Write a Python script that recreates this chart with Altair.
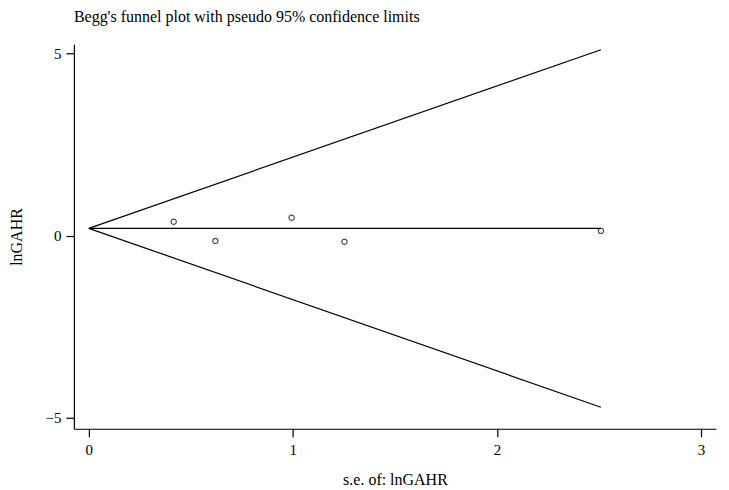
import altair as alt
import pandas as pd

# Study points
se = [0.416, 0.62, 0.994, 1.253, 2.51]
lnGAHR = [0.38, -0.15, 0.49, -0.17, 0.13]

# Funnel lines (endpoints)
line_se = [0.0, 2.51]
center = [0.20, 0.20]
upper = [0.20, 5.10]
lower = [0.20, -4.71]

pts = pd.DataFrame({"se": se, "y": lnGAHR})
lines = pd.DataFrame({
    "se": line_se * 3,
    "y": center + upper + lower,
    "line": ["center"] * 2 + ["upper"] * 2 + ["lower"] * 2,
})

FONT = "Liberation Serif"

xscale = alt.Scale(domain=[-0.073, 3.074], nice=False, zero=False)
yscale = alt.Scale(domain=[-5.30, 5.25], nice=False, zero=False)

xaxis = alt.Axis(values=[0, 1, 2, 3], title="s.e. of: lnGAHR", grid=False,
                 tickSize=8, labelPadding=6, titlePadding=14, format="d")
yaxis = alt.Axis(values=[-5, 0, 5], title="lnGAHR", grid=False,
                 tickSize=8, labelPadding=5, titlePadding=21, format="d")

line_layer = alt.Chart(lines).mark_line(color="black", strokeWidth=1.2).encode(
    x=alt.X("se:Q", scale=xscale, axis=xaxis),
    y=alt.Y("y:Q", scale=yscale, axis=yaxis),
    detail="line:N",
)

pt_layer = alt.Chart(pts).mark_point(shape="circle", filled=False, color="black",
                                      size=28, strokeWidth=1.2).encode(
    x=alt.X("se:Q", scale=xscale),
    y=alt.Y("y:Q", scale=yscale),
)

chart = (line_layer + pt_layer).properties(
    width=643, height=385,
    title=alt.TitleParams("Begg's funnel plot with pseudo 95% confidence limits",
                          anchor="start", frame="group", fontSize=16, font=FONT,
                          fontWeight="normal", offset=19),
    padding={"left": 0, "top": 1, "right": 5, "bottom": 5},
).configure_view(stroke=None).configure_axis(
    labelFont=FONT, titleFont=FONT, labelFontSize=15, titleFontSize=16,
    titleFontWeight="normal", domainColor="black", tickColor="black",
    labelColor="black", titleColor="black", domainWidth=1.2, tickWidth=1.2,
).configure_axisY(labelAngle=0)

chart.save("out.html", embed_options={"renderer": "svg", "actions": False})
